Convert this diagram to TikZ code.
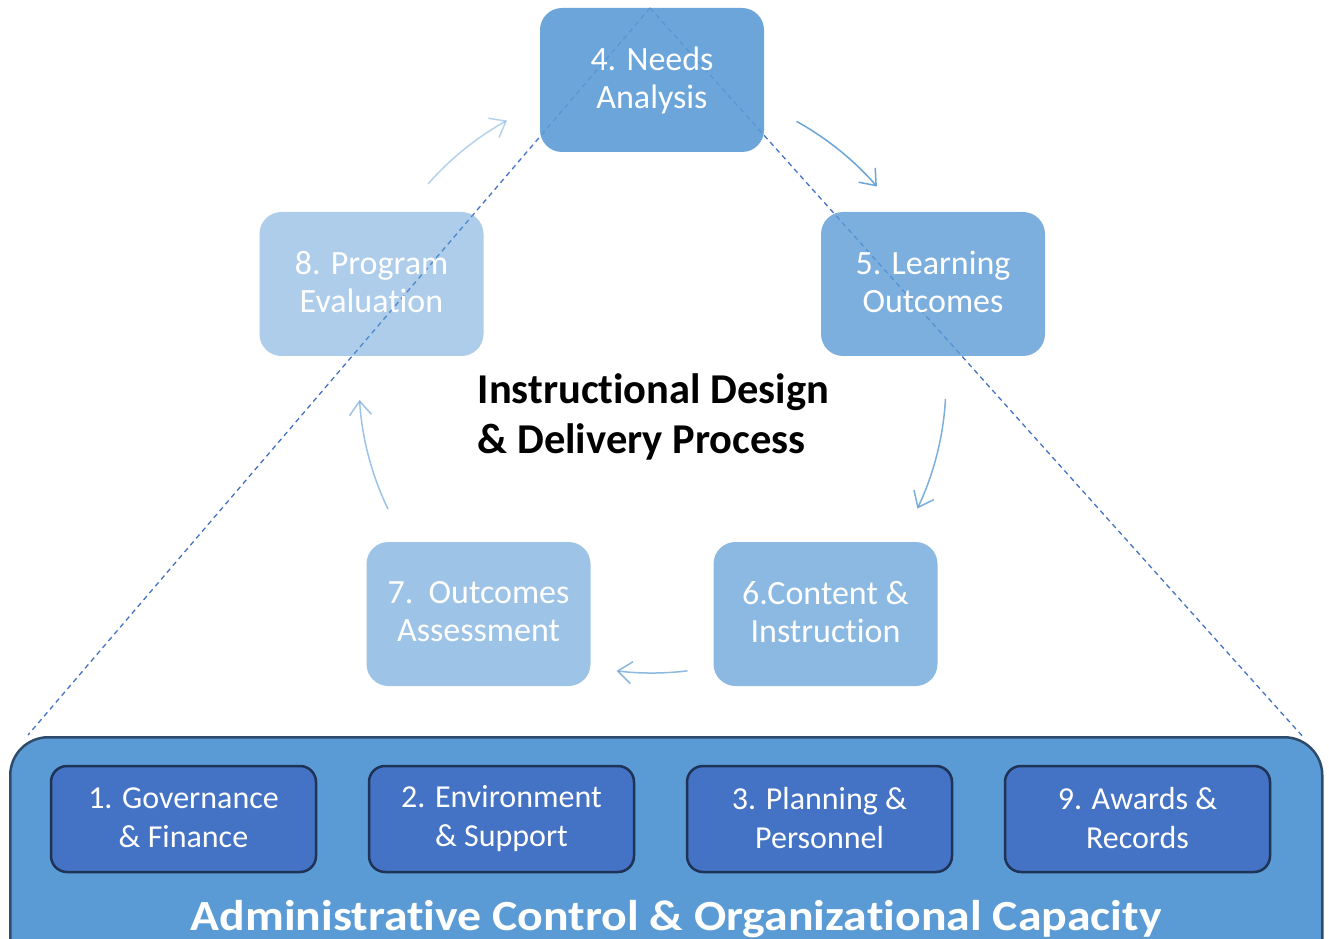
\documentclass[tikz,border=0pt]{standalone}
\usepackage{fontspec}
\setmainfont{Carlito}[Ligatures=NoCommon]
\usetikzlibrary{arrows.meta,calc}
\definecolor{acc}{HTML}{5B9BD5}
\definecolor{accdark}{HTML}{4472C4}
\definecolor{bigline}{HTML}{2E4B6C}
\definecolor{smline}{HTML}{1F3356}
\newcommand{\boxstrut}{\rule[-5pt]{0pt}{29pt}}
\newcommand{\admstrut}{\rule[-3pt]{0pt}{33pt}}
\newcommand{\bigstrut}{\rule[-10pt]{0pt}{30pt}}
\begin{document}
\begin{tikzpicture}[x=1pt,y=1pt,
  cycbox/.style={rounded corners=22pt, minimum width=224pt, minimum height=144pt,
    fill=acc, text=white, text opacity=1, align=center, inner sep=0pt,
    font=\fontsize{34}{38}\selectfont,
    execute at begin node=\boxstrut, execute at end node=\boxstrut},
  admbox/.style={rounded corners=16pt, minimum width=265pt, minimum height=106pt,
    fill=accdark, draw=smline, line width=2.5pt, text=white, align=center, inner sep=0pt,
    font=\fontsize{32}{39}\selectfont,
    execute at begin node=\admstrut, execute at end node=\admstrut},
  cycarrow/.style={draw=acc, line width=1.5pt, -{Straight Barb[length=14pt,width=22pt]}},
  triline/.style={draw=accdark, line width=1.3pt, dash pattern=on 5pt off 4pt}
]
\useasboundingbox (0,0) rectangle (1329,938);
\clip (0,0) rectangle (1329,938);

% anchors of the triangle and cycle centre
\coordinate (cyc) at (652,556);
\coordinate (triL) at (28,203);
\coordinate (triR) at (1304,200);
\coordinate (apex) at (650,930);

% dashed triangle (under the boxes)
\draw[triline] (apex) -- (triL);
\draw[triline] (apex) -- (triR);

% bottom container
\node[draw=bigline, fill=acc, line width=2.5pt, rounded corners=38pt,
  minimum width=1312pt, minimum height=300pt, anchor=north west, inner sep=0pt]
  (admin) at (9,202) {};

% cycle boxes
\node[cycbox, fill opacity=0.9] (n4) at (652,858) {4. Needs\\Analysis};
\node[cycbox, fill opacity=0.8] (n5) at (933,654) {5. Learning\\Outcomes};
\node[cycbox, fill opacity=0.7] (n6) at (825.5,324) {6.Content \&\\Instruction};
\node[cycbox, fill opacity=0.6] (n7) at (478.5,324) {7.\ \ Outcomes\\Assessment};
\node[cycbox, fill opacity=0.5] (n8) at (371.5,654) {8. Program\\Evaluation};

% cycle arrows
\draw[cycarrow, draw opacity=0.9] ($(cyc)+(61:298)$) arc[start angle=61, end angle=41, radius=298];
\draw[cycarrow, draw opacity=0.8] ($(cyc)+(-3.3:294)$) arc[start angle=-3.3, end angle=-25.5, radius=294];
\draw[cycarrow, draw opacity=0.7] ($(cyc)+(-83:291)$) arc[start angle=-83, end angle=-97, radius=291];
\draw[cycarrow, draw opacity=0.6] ($(cyc)+(205.7:293)$) arc[start angle=205.7, end angle=183.5, radius=293];
\draw[cycarrow, draw opacity=0.45] ($(cyc)+(138.5:299)$) arc[start angle=138.5, end angle=119, radius=299];

% centre title
\node[font=\bfseries\fontsize{42.5}{50}\selectfont, align=left, anchor=north west, inner sep=0pt]
  (idp) at (477.5,565) {\bigstrut Instructional Design\\\& Delivery Process\bigstrut};

% administrative boxes
\node[admbox] (b1) at (183.5,119) {1. Governance\\\& Finance};
\node[admbox] (b2) at (501.5,119) {2. Environment\\\& Support};
\node[admbox] (b3) at (819.5,119) {3. Planning \&\\Personnel};
\node[admbox] (b9) at (1137.5,119) {9. Awards \&\\Records};

\node[font=\bfseries\fontsize{43}{50}\selectfont, text=white, anchor=base, inner sep=0pt]
  (title) at (676,8) {\scalebox{1.11}[1]{Administrative Control \& Organizational Capacity}};
\end{tikzpicture}
\end{document}
